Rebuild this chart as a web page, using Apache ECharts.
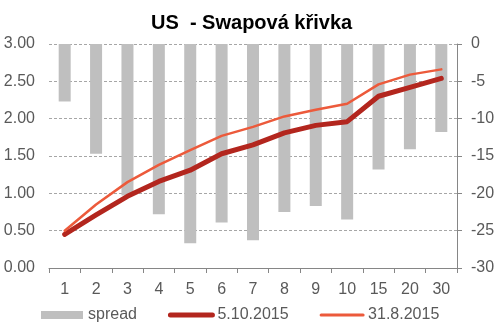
<!DOCTYPE html>
<html><head><meta charset="utf-8">
<script src="https://cdn.jsdelivr.net/npm/echarts@6/dist/echarts.min.js"></script>
<style>html,body{margin:0;padding:0;background:#fff}#c{width:502px;height:324px}</style>
</head><body><div id="c"></div>
<script>
var categories = ['1','2','3','4','5','6','7','8','9','10','15','20','30'];
var spread = [-7.7,-14.7,-20.3,-22.8,-26.7,-23.9,-26.3,-22.5,-21.7,-23.5,-16.8,-14.1,-11.8];
var s20151005 = [0.45,0.71,0.96,1.16,1.31,1.53,1.65,1.81,1.91,1.96,2.30,2.42,2.54];
var s20150831 = [0.50,0.85,1.15,1.38,1.58,1.77,1.89,2.03,2.12,2.20,2.46,2.59,2.66];
var leftTicks = [0, 3, 0.5];
var rightTicks = [-30, 0, 5];

var FONT = '"Liberation Sans", Arial, sans-serif';
var chart = echarts.init(document.getElementById('c'), null, {renderer: 'canvas'});
chart.setOption({
  animation: false,
  backgroundColor: '#ffffff',
  title: {
    text: 'US  - Swapová křivka',
    left: 146, top: 8,
    textStyle: {fontFamily: FONT, fontSize: 20, fontWeight: 'bold', color: '#000'}
  },
  grid: {left: 49, right: 45, top: 44, bottom: 56},
  legend: {
    left: 36, top: 302, itemGap: 31, itemWidth: 42, itemHeight: 8,
    textStyle: {fontFamily: FONT, fontSize: 16, color: '#595959'},
    data: [
      {name: 'spread', icon: 'rect'},
      {name: '5.10.2015', itemStyle: {color: 'rgba(0,0,0,0)', borderWidth: 0, opacity: 0},
        lineStyle: {width: 5, color: '#b3261e', cap: 'round'}},
      {name: '31.8.2015', itemStyle: {color: 'rgba(0,0,0,0)', borderWidth: 0, opacity: 0},
        lineStyle: {width: 3, color: '#ec5a3b', cap: 'round'}}
    ]
  },
  xAxis: {
    type: 'category', data: categories, boundaryGap: true,
    axisLine: {lineStyle: {color: '#868686', width: 1}},
    axisTick: {show: true, length: 5, lineStyle: {color: '#868686'}},
    axisLabel: {fontFamily: FONT, fontSize: 16, color: '#595959', margin: 14},
    splitLine: {show: false}
  },
  yAxis: [{
    type: 'value', min: leftTicks[0], max: leftTicks[1], interval: leftTicks[2],
    axisLine: {show: false}, axisTick: {show: false},
    axisLabel: {fontFamily: FONT, fontSize: 16, color: '#595959', margin: 14,
      formatter: function (v) { return v.toFixed(2); }},
    splitLine: {show: true, lineStyle: {color: '#a6a6a6', type: [3, 2], width: 1}}
  }, {
    type: 'value', min: rightTicks[0], max: rightTicks[1], interval: rightTicks[2],
    position: 'right',
    axisLine: {show: true, lineStyle: {color: '#868686', width: 1}},
    axisTick: {show: true, length: 5, lineStyle: {color: '#868686'}},
    axisLabel: {fontFamily: FONT, fontSize: 16, color: '#595959', margin: 14},
    splitLine: {show: false}
  }],
  series: [{
    name: 'spread', type: 'bar', yAxisIndex: 1, data: spread, barWidth: 12,
    itemStyle: {color: '#bfbfbf'}
  }, {
    name: '5.10.2015', type: 'line', yAxisIndex: 0, data: s20151005,
    symbol: 'none', smooth: false,
    lineStyle: {color: '#b3261e', width: 5, cap: 'round', join: 'round'},
    itemStyle: {color: '#b3261e'}
  }, {
    name: '31.8.2015', type: 'line', yAxisIndex: 0, data: s20150831,
    symbol: 'none', smooth: false,
    lineStyle: {color: '#ec5a3b', width: 2.5, cap: 'round', join: 'round'},
    itemStyle: {color: '#ec5a3b'}
  }]
});
</script></body></html>
